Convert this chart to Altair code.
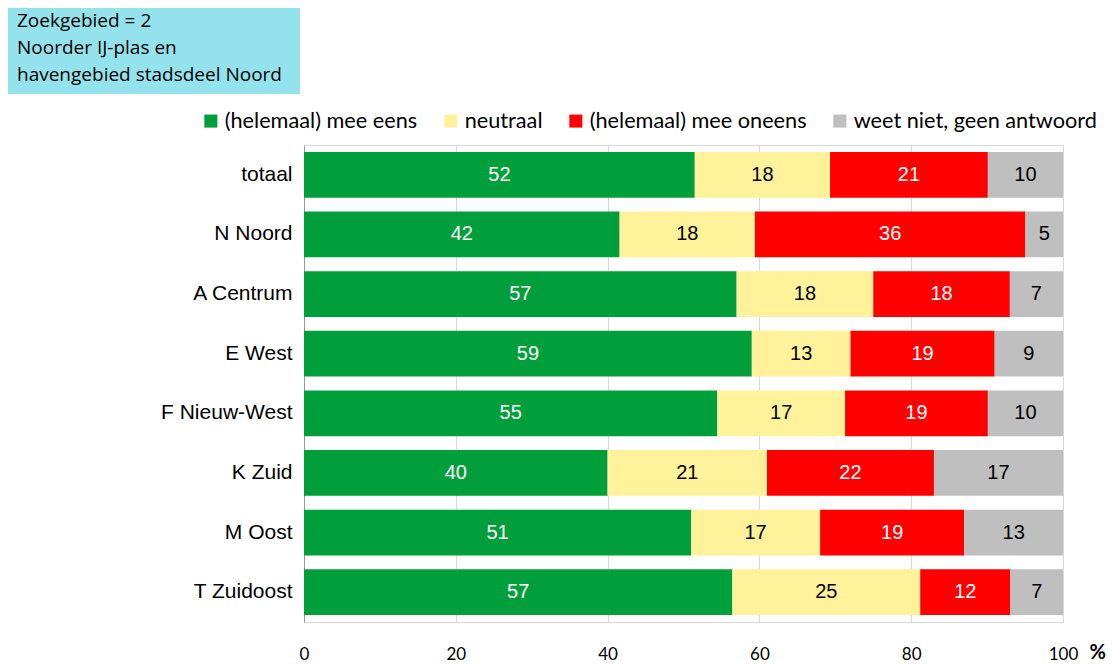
import altair as alt
import pandas as pd

rows = ["totaal", "N Noord", "A Centrum", "E West", "F Nieuw-West", "K Zuid", "M Oost", "T Zuidoost"]
cats = ["(helemaal) mee eens", "neutraal", "(helemaal) mee oneens", "weet niet, geen antwoord"]
colors = ["#009F3C", "#FFF29A", "#FF0000", "#BFBFBF"]
text_colors = ["white", "black", "white", "black"]
eens = [52, 42, 57, 59, 55, 40, 51, 57]
neutraal = [18, 18, 18, 13, 17, 21, 17, 25]
oneens = [21, 36, 18, 19, 19, 22, 19, 12]
weetniet = [10, 5, 7, 9, 10, 17, 13, 7]
box_text = "Zoekgebied = 2\nNoorder IJ-plas en\nhavengebied stadsdeel Noord"

series = [eens, neutraal, oneens, weetniet]
recs = []
for ci, (c, vals) in enumerate(zip(cats, series)):
    for r, v in zip(rows, vals):
        recs.append({"rij": r, "cat": c, "ord": ci, "v": v, "tc": text_colors[ci]})
df = pd.DataFrame(recs)

base = alt.Chart(df).transform_stack(
    stack="v", groupby=["rij"], as_=["s0", "s1"], offset="normalize",
    sort=[alt.SortField("ord", order="ascending")]
).transform_calculate(
    x0="datum.s0*100", x1="datum.s1*100", xm="(datum.s0+datum.s1)*50"
)

yenc = alt.Y("rij:N", sort=rows, title=None,
             scale=alt.Scale(paddingInner=0.233, paddingOuter=0.117),
             axis=alt.Axis(labelFont="Liberation Sans", labelFontSize=21, labelColor="black",
                           labelPadding=12, ticks=False, domainColor="#999999", grid=False))

bars = base.mark_bar().encode(
    x=alt.X("x0:Q", scale=alt.Scale(domain=[0, 100], nice=False), title="%",
            axis=alt.Axis(values=[0, 20, 40, 60, 80, 100], labelFont="Lato", labelFontSize=17,
                          labelColor="black", labelPadding=24, ticks=False, domainColor="#D9D9D9",
                          gridColor="#D9D9D9", labelFlush=False, titleFont="Lato", titleFontSize=20,
                          titleFontWeight="bold", titleX=785, titleY=30, titleAlign="left",
                          titleBaseline="middle")),
    x2="x1:Q",
    y=yenc,
    color=alt.Color("cat:N", scale=alt.Scale(domain=cats, range=colors),
                    legend=alt.Legend(title=None, orient="none", direction="horizontal",
                                      legendX=-104, legendY=-35, symbolType="square",
                                      symbolSize=170, symbolStrokeWidth=0, labelFont="Lato",
                                      labelFontSize=21.7, labelColor="black", columnPadding=22,
                                      labelOffset=3, symbolOpacity=1, labelLimit=0)),
)

labels = base.mark_text(font="Liberation Sans", fontSize=20).encode(
    x=alt.X("xm:Q"),
    y=alt.Y("rij:N", sort=rows),
    text="v:Q",
    color=alt.Color("tc:N", scale=None),
)

boxdf = pd.DataFrame({"t": [box_text]})
box = alt.Chart(boxdf).mark_rect(color="#94E3EC").encode(
    x=alt.value(-296), x2=alt.value(-4), y=alt.value(-137), y2=alt.value(-51)
)
boxtext = alt.Chart(boxdf).mark_text(lineBreak="\n", align="left", baseline="top",
                                     font="Open Sans", fontSize=19, lineHeight=27,
                                     color="black").encode(
    x=alt.value(-287), y=alt.value(-133), text="t:N"
)

chart = alt.layer(bars, labels, box, boxtext).properties(
    width=759, height=477,
    autosize=alt.AutoSizeParams(type="none"),
    padding={"left": 296, "top": 137, "right": 43, "bottom": 40},
).configure_view(stroke="#D9D9D9")

chart.save("out.html", embed_options={"renderer": "svg", "actions": False})
